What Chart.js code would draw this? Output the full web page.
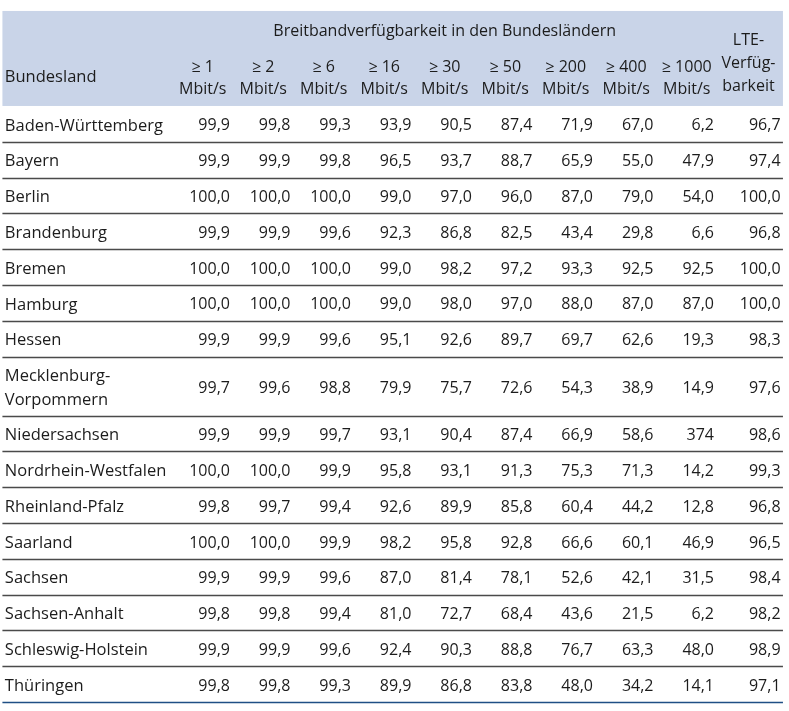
<!DOCTYPE html>
<html>
<head>
<meta charset="utf-8">
<script src="https://cdn.jsdelivr.net/npm/chart.js@4"></script>
<style>
  html, body { margin: 0; padding: 0; background: #fff; }
  #wrap { width: 789px; height: 711px; position: relative; }
</style>
</head>
<body>
<div id="wrap"><canvas id="table-chart"></canvas></div>
<script>
// Data
var states = ["Baden-Württemberg", "Bayern", "Berlin", "Brandenburg", "Bremen", "Hamburg", "Hessen",
    "Mecklenburg-\nVorpommern", "Niedersachsen", "Nordrhein-Westfalen", "Rheinland-Pfalz", "Saarland",
    "Sachsen", "Sachsen-Anhalt", "Schleswig-Holstein", "Thüringen"];
var speedLabels = ["≥ 1", "≥ 2", "≥ 6", "≥ 16", "≥ 30", "≥ 50", "≥ 200", "≥ 400", "≥ 1000"];
var title = "Breitbandverfügbarkeit in den Bundesländern";
var lteLabel = ["LTE-", "Verfüg-", "barkeit"];

var v1    = [99.9, 99.9, 100.0, 99.9, 100.0, 100.0, 99.9, 99.7, 99.9, 100.0, 99.8, 100.0, 99.9, 99.8, 99.9, 99.8];
var v2    = [99.8, 99.9, 100.0, 99.9, 100.0, 100.0, 99.9, 99.6, 99.9, 100.0, 99.7, 100.0, 99.9, 99.8, 99.9, 99.8];
var v6    = [99.3, 99.8, 100.0, 99.6, 100.0, 100.0, 99.6, 98.8, 99.7, 99.9, 99.4, 99.9, 99.6, 99.4, 99.6, 99.3];
var v16   = [93.9, 96.5, 99.0, 92.3, 99.0, 99.0, 95.1, 79.9, 93.1, 95.8, 92.6, 98.2, 87.0, 81.0, 92.4, 89.9];
var v30   = [90.5, 93.7, 97.0, 86.8, 98.2, 98.0, 92.6, 75.7, 90.4, 93.1, 89.9, 95.8, 81.4, 72.7, 90.3, 86.8];
var v50   = [87.4, 88.7, 96.0, 82.5, 97.2, 97.0, 89.7, 72.6, 87.4, 91.3, 85.8, 92.8, 78.1, 68.4, 88.8, 83.8];
var v200  = [71.9, 65.9, 87.0, 43.4, 93.3, 88.0, 69.7, 54.3, 66.9, 75.3, 60.4, 66.6, 52.6, 43.6, 76.7, 48.0];
var v400  = [67.0, 55.0, 79.0, 29.8, 92.5, 87.0, 62.6, 38.9, 58.6, 71.3, 44.2, 60.1, 42.1, 21.5, 63.3, 34.2];
var v1000 = [6.2, 47.9, 54.0, 6.6, 92.5, 87.0, 19.3, 14.9, 374, 14.2, 12.8, 46.9, 31.5, 6.2, 48.0, 14.1]; // 374 as printed
var lte   = [96.7, 97.4, 100.0, 96.8, 100.0, 100.0, 98.3, 97.6, 98.6, 99.3, 96.8, 96.5, 98.4, 98.2, 98.9, 97.1];

var columns = [v1, v2, v6, v16, v30, v50, v200, v400, v1000, lte];

// Layout (in scale units)
var colPos = [1, 2, 3, 4, 5, 6, 7, 8, 9, 10.1];      // right edge of each number column
var nameX = -2.72;
var tableLeft = -2.76, tableRight = 10.14;
var rowSpans = states.map(function(s){ return s.indexOf("\n") >= 0 ? 1.65 : 1; });
var rowStart = [], acc = 0;
rowSpans.forEach(function(h){ rowStart.push(acc); acc += h; });
var rowCenter = rowStart.map(function(s, i){ return s + rowSpans[i] / 2; });
var tableBottom = acc;

var FONT = "'Open Sans', sans-serif";
var TEXT = "#1c1c1c";

function fmt(v){
    return v > 100 ? String(v) : v.toFixed(1).replace(".", ",");
}

var datasets = [{
    label: "Bundesland",
    data: states.map(function(s, i){ return {x: nameX, y: rowCenter[i]}; }),
    pointRadius: 0
}];
columns.forEach(function(col, c){
    datasets.push({
        label: c < speedLabels.length ? speedLabels[c] : "LTE",
        data: col.map(function(v, i){ return {x: colPos[c], y: rowCenter[i], v: v}; }),
        pointRadius: 0
    });
});

const tablePlugin = {
    id: 'tablePlugin',
    beforeDatasetsDraw(chart){
        const {ctx, scales: {x, y}} = chart;
        ctx.save();
        // header background
        ctx.fillStyle = "#c9d4e8";
        const hx = x.getPixelForValue(tableLeft), hy = y.getPixelForValue(-2.654);
        ctx.fillRect(hx, hy, x.getPixelForValue(tableRight) - hx, y.getPixelForValue(0) - hy);

        // row lines
        ctx.lineWidth = 1.5;
        for (let i = 1; i <= states.length; i++) {
            const yy = Math.round(y.getPixelForValue(rowStart[i] !== undefined ? rowStart[i] : tableBottom)) + 0.5;
            ctx.strokeStyle = i === states.length ? "#1f4f85" : "#4a4a4a";
            ctx.beginPath();
            ctx.moveTo(x.getPixelForValue(tableLeft), yy);
            ctx.lineTo(x.getPixelForValue(tableRight), yy);
            ctx.stroke();
        }

        // header text
        ctx.fillStyle = TEXT;
        ctx.font = "16px " + FONT;
        ctx.textBaseline = "middle";
        ctx.textAlign = "center";
        ctx.fillText(title, (x.getPixelForValue(0.05) + x.getPixelForValue(9.05)) / 2, y.getPixelForValue(-2.09));
        speedLabels.forEach(function(l, c){
            const cx = x.getPixelForValue(colPos[c] - 0.45);
            ctx.fillText(l, cx, y.getPixelForValue(-1.07));
            ctx.fillText("Mbit/s", cx, y.getPixelForValue(-0.45));
        });
        const lx = x.getPixelForValue(9.57);
        lteLabel.forEach(function(l, k){
            ctx.fillText(l, lx, y.getPixelForValue(-1.84 + k * 0.645));
        });
        ctx.textAlign = "left";
        ctx.font = "16.5px " + FONT;
        ctx.fillText("Bundesland", x.getPixelForValue(nameX), y.getPixelForValue(-0.79));
        ctx.restore();
    },
    afterDatasetsDraw(chart){
        const {ctx} = chart;
        ctx.save();
        ctx.fillStyle = TEXT;
        ctx.textBaseline = "middle";
        chart.data.datasets.forEach((dataset, d) => {
            chart.getDatasetMeta(d).data.forEach((pt, i) => {
                if (d === 0) {
                    ctx.font = "16.5px " + FONT;
                    ctx.textAlign = "left";
                    const lines = states[i].split("\n");
                    lines.forEach((ln, k) => {
                        ctx.fillText(ln, pt.x, pt.y + (k - (lines.length - 1) / 2) * 24 + 2);
                    });
                } else {
                    ctx.font = "16px " + FONT;
                    ctx.textAlign = "right";
                    ctx.fillText(fmt(dataset.data[i].v), pt.x, pt.y + 2);
                }
            });
        });
        ctx.restore();
    }
};

var config = {
    type: 'scatter',
    data: { datasets: datasets },
    options: {
        responsive: true,
        maintainAspectRatio: false,
        animation: false,
        layout: { padding: 0 },
        plugins: { legend: { display: false }, tooltip: { enabled: false } },
        scales: {
            x: { type: 'linear', display: false, min: -2.80, max: 10.24 },
            y: { type: 'linear', display: false, reverse: true, min: -2.96, max: 16.9 }
        }
    },
    plugins: [tablePlugin]
};

var tableChart = new Chart(document.getElementById("table-chart"), config);
</script>
</body>
</html>
